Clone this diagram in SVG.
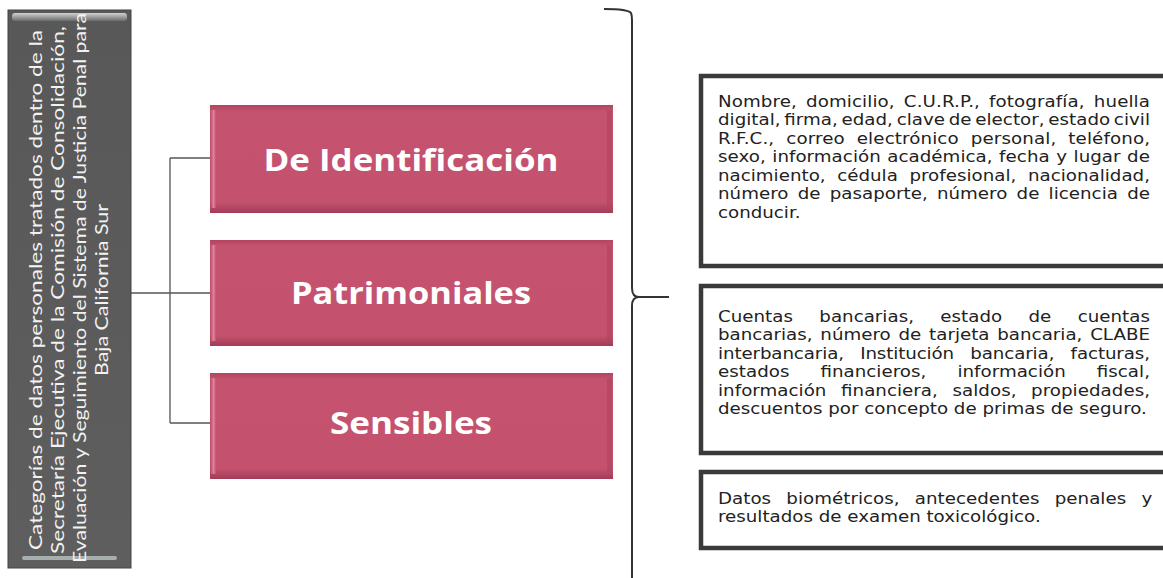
<svg xmlns="http://www.w3.org/2000/svg" width="1163" height="578" viewBox="0 0 1163 578">
<defs>
<style>
.vt{font-family:Lato,"Open Sans","DejaVu Sans",sans-serif;font-size:18.2px;fill:#f2f2f2;text-anchor:middle}
.cat{font-family:"Open Sans",Lato,"DejaVu Sans",sans-serif;font-weight:bold;font-size:31px;fill:#ffffff;text-anchor:middle}
.bt{font-family:"DejaVu Sans","Liberation Sans",sans-serif;font-size:15.8px;fill:#222222}
.conn{fill:none;stroke:#555555;stroke-width:1.3}
.br{fill:none;stroke:#333333;stroke-width:2}
.tb{fill:#ffffff;stroke:#3a3a3a;stroke-width:4.5}
</style>
<linearGradient id="pinkG" x1="0" y1="0" x2="0" y2="1">
<stop offset="0" stop-color="#b3435f"/>
<stop offset="0.06" stop-color="#c4536f"/>
<stop offset="0.9" stop-color="#c4526e"/>
<stop offset="1" stop-color="#a23b57"/>
</linearGradient>
<linearGradient id="pinkEdge" x1="0" y1="0" x2="1" y2="0">
<stop offset="0" stop-color="#c4526e"/>
<stop offset="0.5" stop-color="#e391a6"/>
<stop offset="1" stop-color="#c4526e"/>
</linearGradient>
<linearGradient id="grayG" x1="0" y1="0" x2="0" y2="1">
<stop offset="0" stop-color="#585858"/>
<stop offset="1" stop-color="#5e5e5e"/>
</linearGradient>
<linearGradient id="grayHi" x1="0" y1="0" x2="0" y2="1">
<stop offset="0" stop-color="#cfd3d3"/>
<stop offset="1" stop-color="#6a6a6a"/>
</linearGradient>
</defs>
<rect width="1163" height="578" fill="#ffffff"/>

<g id="connectors">
<path class="conn" d="M131,293 H170 M170,158 V423 M170,158 H210 M170,293 H210 M170,423 H210"/>
<path class="br" d="M604,9 Q628,9 631,13 Q632,15 632,20 L632,288 Q632,297 639,297 L669,297 M639,297 Q632,297 632,306 L632,578"/>
</g>

<g id="root">
<rect x="8" y="10" width="123" height="558" fill="url(#grayG)" stroke="#444" stroke-width="1"/>
<rect x="12" y="13" width="115" height="8" rx="3" fill="url(#grayHi)"/>
<rect x="22" y="556" width="95" height="4" rx="2" fill="#b9c2c2" opacity="0.8"/>
<text class="vt" transform="translate(42,290) rotate(-90)" textLength="520" lengthAdjust="spacingAndGlyphs">Categorías de datos personales tratados dentro de la</text>
<text class="vt" transform="translate(64,290) rotate(-90)" textLength="528" lengthAdjust="spacingAndGlyphs">Secretaría Ejecutiva de la Comisión de Consolidación,</text>
<text class="vt" transform="translate(86,288) rotate(-90)" textLength="550" lengthAdjust="spacingAndGlyphs">Evaluación y Seguimiento del Sistema de Justicia Penal para</text>
<text class="vt" transform="translate(108,290) rotate(-90)" textLength="172" lengthAdjust="spacingAndGlyphs">Baja California Sur</text>
</g>

<g id="cat-identificacion">
<rect x="210" y="105" width="403" height="108" fill="url(#pinkG)"/>
<rect x="211" y="110" width="5" height="98" fill="url(#pinkEdge)" opacity="0.8"/>
<rect x="607" y="110" width="5" height="98" fill="#b04662" opacity="0.7"/>
<text class="cat" x="411" y="171" textLength="295" lengthAdjust="spacingAndGlyphs">De Identificación</text>
</g>

<g id="cat-patrimoniales">
<rect x="210" y="240" width="403" height="106" fill="url(#pinkG)"/>
<rect x="211" y="245" width="5" height="96" fill="url(#pinkEdge)" opacity="0.8"/>
<rect x="607" y="245" width="5" height="96" fill="#b04662" opacity="0.7"/>
<text class="cat" x="411" y="304" textLength="240" lengthAdjust="spacingAndGlyphs">Patrimoniales</text>
</g>

<g id="cat-sensibles">
<rect x="210" y="373" width="403" height="106" fill="url(#pinkG)"/>
<rect x="211" y="378" width="5" height="96" fill="url(#pinkEdge)" opacity="0.8"/>
<rect x="607" y="378" width="5" height="96" fill="#b04662" opacity="0.7"/>
<text class="cat" x="411" y="434" textLength="162" lengthAdjust="spacingAndGlyphs">Sensibles</text>
</g>

<g id="det-identificacion">
<rect class="tb" x="701" y="76" width="470" height="190"/>
<g transform="translate(718,0) scale(1.155,1)">
<text class="bt" x="0" y="107" textLength="374" lengthAdjust="spacing" word-spacing="2.8">Nombre, domicilio, C.U.R.P., fotografía, huella</text>
<text class="bt" x="0" y="125.5" textLength="374" lengthAdjust="spacing" word-spacing="-1.8">digital, firma, edad, clave de elector, estado civil</text>
<text class="bt" x="0" y="144" textLength="374" lengthAdjust="spacing" word-spacing="5.3">R.F.C., correo electrónico personal, teléfono,</text>
<text class="bt" x="0" y="162.5" textLength="374" lengthAdjust="spacing" word-spacing="0.6">sexo, información académica, fecha y lugar de</text>
<text class="bt" x="0" y="181" textLength="374" lengthAdjust="spacing" word-spacing="5">nacimiento, cédula profesional, nacionalidad,</text>
<text class="bt" x="0" y="199.5" textLength="374" lengthAdjust="spacing" word-spacing="2.9">número de pasaporte, número de licencia de</text>
<text class="bt" x="0" y="218">conducir.</text>
</g>
</g>

<g id="det-patrimoniales">
<rect class="tb" x="701" y="286" width="470" height="167"/>
<g transform="translate(718,0) scale(1.155,1)">
<text class="bt" x="0" y="322" textLength="374" lengthAdjust="spacing" word-spacing="17.8">Cuentas bancarias, estado de cuentas</text>
<text class="bt" x="0" y="340.5" textLength="374" lengthAdjust="spacing" word-spacing="1.7">bancarias, número de tarjeta bancaria, CLABE</text>
<text class="bt" x="0" y="359" textLength="374" lengthAdjust="spacing" word-spacing="9.2">interbancaria, Institución bancaria, facturas,</text>
<text class="bt" x="0" y="377.5" textLength="374" lengthAdjust="spacing" word-spacing="21.8">estados financieros, información fiscal,</text>
<text class="bt" x="0" y="396" textLength="374" lengthAdjust="spacing" word-spacing="7.6">información financiera, saldos, propiedades,</text>
<text class="bt" x="0" y="414.5">descuentos por concepto de primas de seguro.</text>
</g>
</g>

<g id="det-sensibles">
<rect class="tb" x="701" y="472" width="470" height="76"/>
<g transform="translate(718,0) scale(1.155,1)">
<text class="bt" x="0" y="504" textLength="376" lengthAdjust="spacing" word-spacing="8.2">Datos biométricos, antecedentes penales y</text>
<text class="bt" x="0" y="522.5">resultados de examen toxicológico.</text>
</g>
</g>
</svg>
